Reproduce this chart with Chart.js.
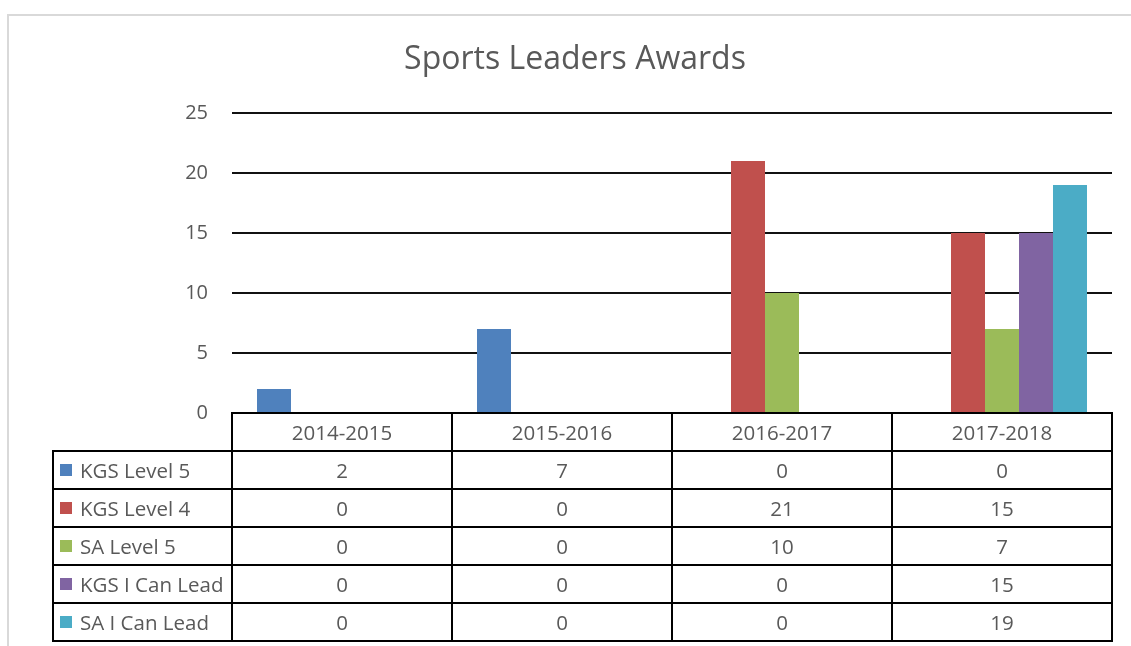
<!DOCTYPE html>
<html><head><meta charset="utf-8">
<script src="https://cdn.jsdelivr.net/npm/chart.js@4/dist/chart.umd.min.js"></script>
<style>
html,body{margin:0;padding:0;background:#fff;overflow:hidden}
#wrap{position:relative;width:1131px;height:646px;overflow:hidden}
#frame{position:absolute;left:7px;top:14px;width:1300px;height:800px;border:2px solid #d9d9d9;box-sizing:border-box}
canvas{position:absolute;left:0;top:0}
.cell{position:absolute;box-sizing:border-box;border:2px solid #000;font-family:'Open Sans',sans-serif;font-size:20.5px;color:#595959;display:flex;align-items:center;justify-content:center;white-space:nowrap}
.lcell{justify-content:flex-start;padding-left:6px}
.sw{display:inline-block;width:12px;height:12px;margin-right:8px}
</style></head>
<body>
<div id="wrap">
<div id="frame"></div>
<canvas id="c" width="1131" height="646"></canvas>
<div id="tbl"></div>
</div>
<script>
const categories = ['2014-2015','2015-2016','2016-2017','2017-2018'];
const seriesNames = ['KGS Level 5','KGS Level 4','SA Level 5','KGS I Can Lead','SA I Can Lead'];
const kgsLevel5 = [2,7,0,0];
const kgsLevel4 = [0,0,21,15];
const saLevel5 = [0,0,10,7];
const kgsICanLead = [0,0,0,15];
const saICanLead = [0,0,0,19];
const yTicks = [0,5,10,15,20,25];
const colors = ['#4F81BD','#C0504D','#9BBB59','#8064A2','#4BACC6'];
const seriesValues = [kgsLevel5,kgsLevel4,saLevel5,kgsICanLead,saICanLead];

const chart = new Chart(document.getElementById('c'), {
  type:'bar',
  data:{
    labels:categories,
    datasets:seriesNames.map((n,i)=>({label:n,data:seriesValues[i],backgroundColor:colors[i],borderWidth:0,categoryPercentage:0.7727,barPercentage:1}))
  },
  options:{
    responsive:false,animation:false,
    layout:{padding:{left:38,right:19,top:0,bottom:233}},
    plugins:{
      legend:{display:false},tooltip:{enabled:false},
      title:{display:true,text:'Sports Leaders Awards',color:'#595959',font:{family:'Open Sans',size:32,weight:'normal'},padding:{top:41,bottom:33.6}}
    },
    scales:{
      x:{display:false},
      y:{min:yTicks[0],max:yTicks[yTicks.length-1],
        afterBuildTicks(s){s.ticks=yTicks.map(v=>({value:v}));},
        afterFit(s){s.width=194;},
        ticks:{color:'#595959',font:{family:'Open Sans',size:20},padding:24},
        grid:{color:'#111',lineWidth:2,drawTicks:false},
        border:{display:false}}
    }
  }
});

(function buildTable(){
  const ca = chart.chartArea, xs = chart.scales.x;
  const tbl = document.getElementById('tbl');
  const rowH = 38, legLeft = 53;
  const colW = (ca.right-ca.left)/categories.length;
  function cell(x,y,w,h,html,cls){
    const d=document.createElement('div');
    d.className='cell'+(cls?' '+cls:'');
    d.style.left=(x-1)+'px';d.style.top=(y-1)+'px';d.style.width=(w+2)+'px';d.style.height=(h+2)+'px';
    d.innerHTML=html;tbl.appendChild(d);
  }
  const top = ca.bottom;
  categories.forEach((c,j)=>{
    const x = xs.getPixelForValue(j)-colW/2;
    cell(x,top,colW,rowH,c);
  });
  seriesNames.forEach((n,i)=>{
    const y = top+rowH*(i+1);
    cell(legLeft,y,ca.left-legLeft,rowH,'<span class="sw" style="background:'+colors[i]+'"></span>'+n,'lcell');
    seriesValues[i].forEach((v,j)=>{
      const x = xs.getPixelForValue(j)-colW/2;
      cell(x,y,colW,rowH,String(v));
    });
  });
})();
</script>
</body></html>
